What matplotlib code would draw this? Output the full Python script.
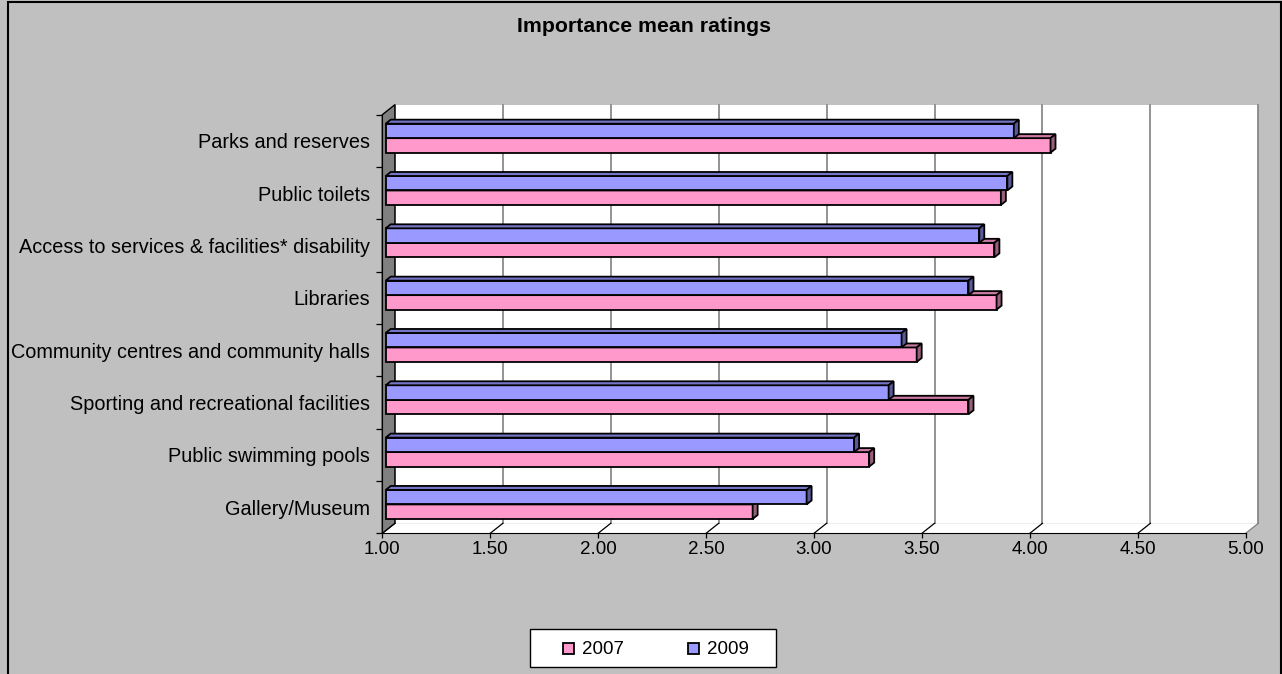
import matplotlib
matplotlib.use("Agg")
import matplotlib.pyplot as plt
import numpy as np
from matplotlib.patches import Polygon, Rectangle
from matplotlib.transforms import Affine2D, IdentityTransform

plt.rcParams['font.family'] = ['Liberation Sans', 'DejaVu Sans']

# ---- data -------------------------------------------------------------
categories = [
    "Gallery/Museum",
    "Public swimming pools",
    "Sporting and recreational facilities",
    "Community centres and community halls",
    "Libraries",
    "Access to services & facilities* disability",
    "Public toilets",
    "Parks and reserves",
]
ratings_2007 = [2.70, 3.24, 3.70, 3.46, 3.83, 3.82, 3.85, 4.08]
ratings_2009 = [2.95, 3.17, 3.33, 3.39, 3.70, 3.75, 3.88, 3.91]
series_labels = ["2007", "2009"]
x_ticks = [1.0, 1.5, 2.0, 2.5, 3.0, 3.5, 4.0, 4.5, 5.0]
x_tick_labels = ["1.00", "1.50", "2.00", "2.50", "3.00", "3.50", "4.00", "4.50", "5.00"]
title = "Importance mean ratings"

# ---- styling ----------------------------------------------------------
W, H, DPI = 1282, 674, 100
BG = "#C0C0C0"
PINK, PINK_TOP, PINK_SIDE = "#FF99CC", "#CC7AA3", "#99607D"
BLUE, BLUE_TOP, BLUE_SIDE = "#9999FF", "#7575C8", "#5A5A99"
GRID = "#808080"
FS_CAT = 14.3
FS_TICK = 13.5
FS_TITLE = 15.3

# depth vectors (display pixels, y up)
WALL = np.array([12.6, 10.0])
BAR_FRONT = np.array([3.4, 2.7])
BAR_BACK = np.array([8.4, 6.7])
BAR_H = 0.277

fig = plt.figure(figsize=(W / DPI, H / DPI), dpi=DPI, facecolor=BG)
ax = fig.add_axes([382.3 / W, (H - 533.3) / H, 863.4 / W, 418.6 / H])
ax.set_autoscale_on(False)
ax.set_xlim(1, 5)
ax.set_ylim(-0.5, len(categories) - 0.5)
ax.patch.set_visible(False)

y0, y1 = -0.5, len(categories) - 0.5


def to_disp(pts):
    return ax.transData.transform(np.asarray(pts, dtype=float))


def add_face(pts_disp, fc, ec="black", lw=1.0, z=1):
    ax.add_patch(Polygon(pts_disp, closed=True, transform=IdentityTransform(),
                         facecolor=fc, edgecolor=ec, linewidth=lw,
                         clip_on=False, zorder=z, joinstyle="miter"))


def add_line(pts_disp, color, lw=1.0, z=1.5):
    pts_disp = np.asarray(pts_disp)
    ax.add_line(plt.Line2D(pts_disp[:, 0], pts_disp[:, 1], transform=IdentityTransform(),
                           color=color, linewidth=lw, clip_on=False, zorder=z))


# back wall
bl, br, tr, tl = to_disp([(1, y0), (5, y0), (5, y1), (1, y1)])
add_face([bl + WALL, br + WALL, tr + WALL, tl + WALL], fc="white", ec="none", z=0.5)
# floor
add_face([bl, br, br + WALL, bl + WALL], fc="white", ec="none", z=0.5)
# gridlines on back wall and floor
for xv in x_ticks:
    fb, ft = to_disp([(xv, y0), (xv, y1)])
    add_line([fb + WALL, ft + WALL], GRID, lw=1.2, z=0.8)
    add_line([fb, fb + WALL], "black" if xv < 5 else GRID, lw=0.9, z=0.8)
# left wall
add_face([bl, tl, tl + WALL, bl + WALL], fc="#808080", ec="black", lw=1.0, z=1)

# bars
front_tr = ax.transData + Affine2D().translate(*BAR_FRONT)


def draw_bar(y_lo, value, fc, top, side, z):
    ax.barh([y_lo], [value - 1], left=1, height=BAR_H, align="edge",
            color=fc, edgecolor="black", linewidth=1.3, transform=front_tr, zorder=z)
    p_bl, p_br, p_tr, p_tl = to_disp([(1, y_lo), (value, y_lo),
                                      (value, y_lo + BAR_H), (1, y_lo + BAR_H)])
    d = BAR_BACK - BAR_FRONT
    p_bl, p_br, p_tr, p_tl = (p + BAR_FRONT for p in (p_bl, p_br, p_tr, p_tl))
    add_face([p_tl, p_tr, p_tr + d, p_tl + d], fc=top, lw=1.3, z=z)
    add_face([p_br, p_tr, p_tr + d, p_br + d], fc=side, lw=1.3, z=z)


for i, (v07, v09) in enumerate(zip(ratings_2007, ratings_2009)):
    draw_bar(i - BAR_H, v07, PINK, PINK_TOP, PINK_SIDE, 3 + 0.01 * i)
    draw_bar(i, v09, BLUE, BLUE_TOP, BLUE_SIDE, 3.5 + 0.01 * i)

# axes, ticks and labels
for s in ("top", "right"):
    ax.spines[s].set_visible(False)
for s in ("left", "bottom"):
    ax.spines[s].set_color("black")
    ax.spines[s].set_zorder(2)

ax.set_xticks(x_ticks)
ax.set_xticklabels(x_tick_labels, fontsize=FS_TICK)
ax.tick_params(axis="x", length=3.6, width=0.9, pad=1.8, color="black")

ax.set_yticks(np.arange(y0, y1 + 0.01, 1.0))
ax.set_yticklabels([])
ax.set_yticks(np.arange(len(categories)), minor=True)
ax.set_yticklabels(categories, minor=True, fontsize=FS_CAT)
ax.tick_params(axis="y", which="major", length=4.3, width=0.9, color="black")
ax.tick_params(axis="y", which="minor", length=0, pad=9.0)

fig.text(644 / W, 1 - 26 / H, title, ha="center", va="center",
         fontsize=FS_TITLE, fontweight="bold")

# legend box drawn in figure pixels
LEG_BOX = (530, 629, 776, 667)          # left, top, right, bottom (pixels from top-left)
LEG_KEYS = [(563, 582), (688, 707)]    # key square left, text left
KEY = 11
legend_colors = [PINK, BLUE]


def fy(y_top):
    return H - y_top


fig.add_artist(Rectangle((LEG_BOX[0], fy(LEG_BOX[3])), LEG_BOX[2] - LEG_BOX[0],
                         LEG_BOX[3] - LEG_BOX[1], transform=IdentityTransform(),
                         facecolor="white", edgecolor="black", linewidth=1.0))
ymid = (LEG_BOX[1] + LEG_BOX[3]) / 2
for (kx, tx), col, lab in zip(LEG_KEYS, legend_colors, series_labels):
    fig.add_artist(Rectangle((kx, fy(ymid) - KEY / 2), KEY, KEY,
                             transform=IdentityTransform(), facecolor=col,
                             edgecolor="black", linewidth=1.3))
    fig.text(tx, fy(ymid), lab, transform=IdentityTransform(), fontsize=FS_TICK,
             ha="left", va="center_baseline")

# chart border
fig.add_artist(Rectangle((8 / W, -0.02), (1281 - 8) / W, 1 - 2 / H + 0.02,
                         transform=fig.transFigure, fill=False,
                         edgecolor="black", linewidth=1.5))

fig.savefig("out.png", dpi=DPI, facecolor=BG)
